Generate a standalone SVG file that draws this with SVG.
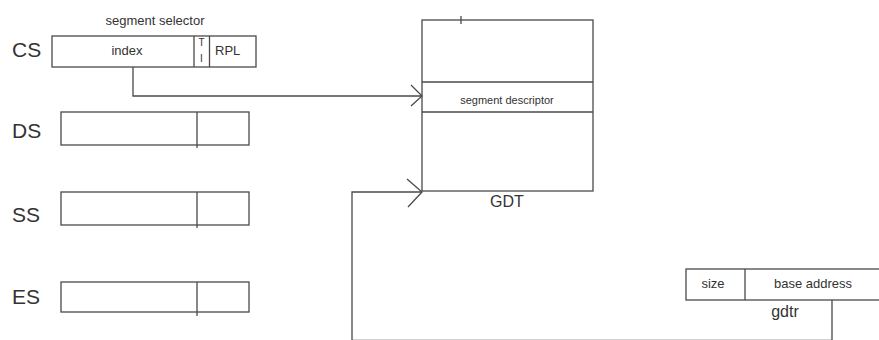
<svg xmlns="http://www.w3.org/2000/svg" width="879" height="340" viewBox="0 0 879 340">
<style>
.box{fill:#fff;stroke:#4a4a4a;stroke-width:1.3}
.ln{fill:none;stroke:#4a4a4a;stroke-width:1.3}
.t{font-family:"Liberation Sans",Arial,sans-serif;fill:#333}
.reg{font-size:21px}
.sm{font-size:13px}
.c{text-anchor:middle}
</style>
<rect width="879" height="340" fill="#fff"/>
<g id="cs">
<text class="t reg" x="12" y="57">CS</text>
<text class="t sm c" x="155" y="25">segment selector</text>
<rect class="box" x="52" y="36" width="204" height="31"/>
<line class="ln" x1="194" y1="36" x2="194" y2="67"/>
<line class="ln" x1="209.5" y1="36" x2="209.5" y2="67"/>
<text class="t sm c" x="127" y="55">index</text>
<text class="t c" x="201.5" y="46" font-size="10">T</text>
<text class="t c" x="201.5" y="62" font-size="10">I</text>
<text class="t sm" x="215" y="55">RPL</text>
</g>
<g id="ds">
<text class="t reg" x="12" y="138">DS</text>
<rect class="box" x="61" y="112" width="188" height="33"/>
<line class="ln" x1="197" y1="112" x2="197" y2="148"/>
</g>
<g id="ss">
<text class="t reg" x="12" y="222">SS</text>
<rect class="box" x="61" y="192" width="188" height="33"/>
<line class="ln" x1="197" y1="192" x2="197" y2="228"/>
</g>
<g id="es">
<text class="t reg" x="12" y="304">ES</text>
<rect class="box" x="61" y="282" width="188" height="30"/>
<line class="ln" x1="197" y1="282" x2="197" y2="316"/>
</g>
<g id="gdt">
<rect class="box" x="422" y="20" width="171" height="171"/>
<line class="ln" x1="422" y1="82" x2="593" y2="82"/>
<line class="ln" x1="422" y1="112" x2="593" y2="112"/>
<line class="ln" x1="461" y1="16" x2="461" y2="24" stroke-width="1.8"/>
<text class="t c" x="507" y="104" font-size="11">segment descriptor</text>
<text class="t c" x="507" y="207" font-size="16">GDT</text>
</g>
<g id="gdtr">
<rect class="box" x="686" y="269" width="200" height="31"/>
<line class="ln" x1="745" y1="269" x2="745" y2="300"/>
<text class="t sm c" x="713" y="288">size</text>
<text class="t sm c" x="813" y="288">base address</text>
<text class="t c" x="785" y="317" font-size="16">gdtr</text>
</g>
<g id="connectors">
<path class="ln" d="M133,67 V96 H421"/>
<path class="ln" d="M411,85 L422,96 L411,106"/>
<path class="ln" d="M832,300 V340.3 H352 V192 H421"/>
<path class="ln" d="M407,179 L422,192 L408,207"/>
</g>
</svg>
